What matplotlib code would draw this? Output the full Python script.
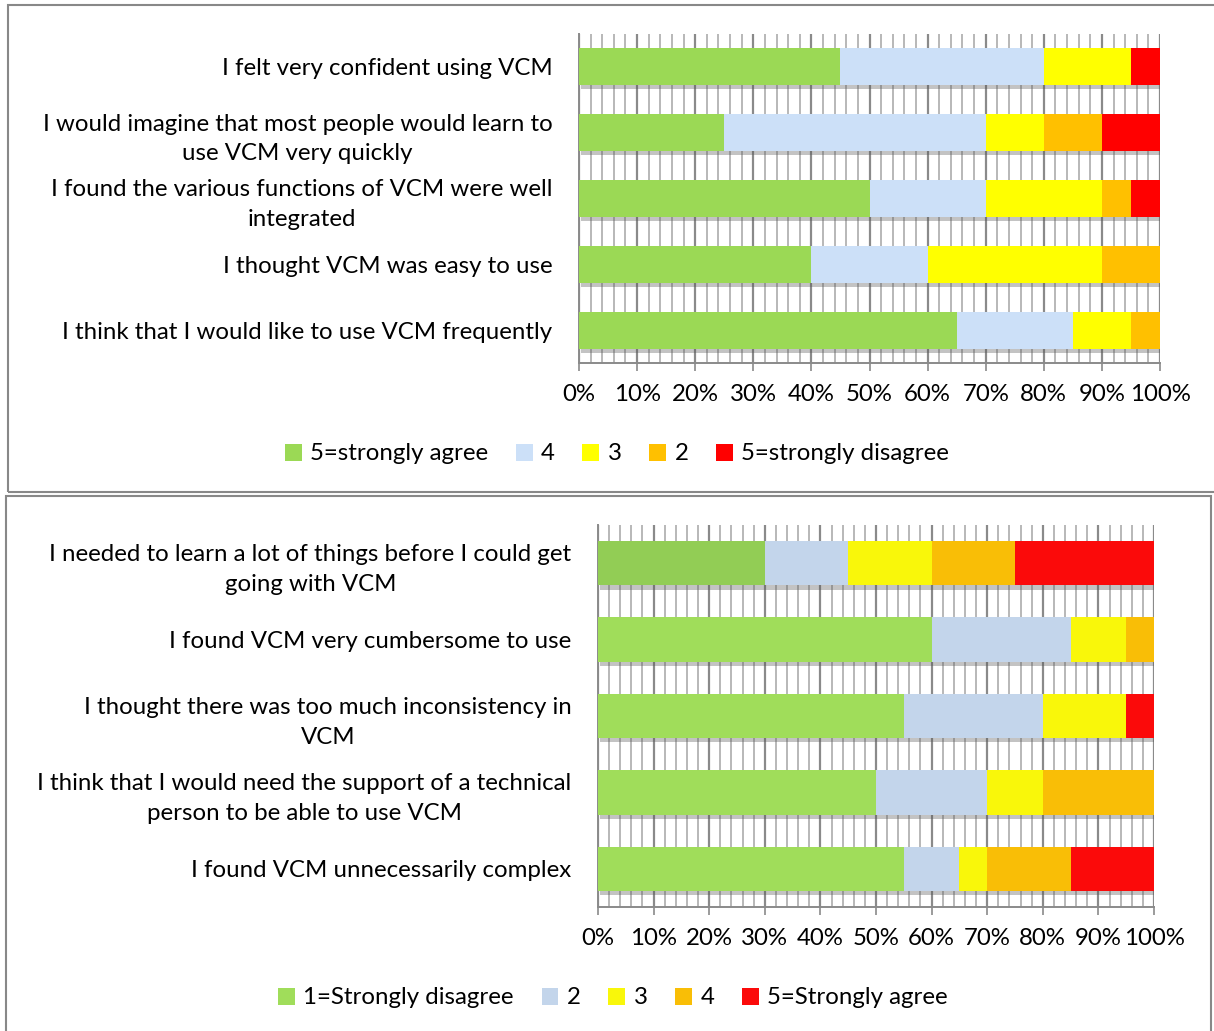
import matplotlib
matplotlib.use("Agg")
import matplotlib.pyplot as plt
import matplotlib.patheffects as pe
from matplotlib.patches import Rectangle, Patch
from matplotlib.ticker import MultipleLocator, PercentFormatter
import numpy as np

plt.rcParams['font.family'] = ['Lato', 'DejaVu Sans']

# top chart: positive SUS items
top_questions = [
    "I felt very confident using VCM",
    "I would imagine that most people would learn to\nuse VCM very quickly",
    "I found the various functions of VCM were well\nintegrated",
    "I thought VCM was easy to use",
    "I think that I would like to use VCM frequently",
]
top_labels = ["5=strongly agree", "4", "3", "2", "5=strongly disagree"]
top_s5 = [45, 25, 50, 40, 65]
top_s4 = [35, 45, 20, 20, 20]
top_s3 = [15, 10, 20, 30, 10]
top_s2 = [0, 10, 5, 10, 5]
top_s1 = [5, 10, 5, 0, 0]
top_colors = ['#9bd955', '#cce0f8', '#ffff00', '#ffc000', '#ff0000']

# bottom chart: negative SUS items
bot_questions = [
    "I needed to learn a lot of things before I could get\ngoing with VCM",
    "I found VCM very cumbersome to use",
    "I thought there was too much inconsistency in\nVCM",
    "I think that I would need the support of a technical\nperson to be able to use VCM",
    "I found VCM unnecessarily complex",
]
bot_labels = ["1=Strongly disagree", "2", "3", "4", "5=Strongly agree"]
bot_s1 = [30, 60, 55, 50, 55]
bot_s2 = [15, 25, 25, 20, 10]
bot_s3 = [15, 10, 15, 10, 5]
bot_s4 = [15, 5, 0, 20, 15]
bot_s5 = [25, 0, 5, 0, 15]
bot_colors = ['#a0dd5a', '#c3d5eb', '#f9f70a', '#f9be06', '#fb0a0a']

W, H = 1214, 1031
FS = 17.3
fig = plt.figure(figsize=(W / 100, H / 100), dpi=100)


def px_axes(x0, y0, x1, y1):
    return fig.add_axes([x0 / W, 1 - y1 / H, (x1 - x0) / W, (y1 - y0) / H])


def draw_chart(ax, questions, series, colors, height, first_color=None):
    y = np.arange(len(questions))
    left = np.zeros(len(questions))
    shadow = [pe.SimplePatchShadow(offset=(1.5, -3), shadow_rgbFace='#555555', alpha=0.35), pe.Normal()]
    for i, (vals, col) in enumerate(zip(series, colors)):
        vals = np.array(vals, dtype=float)
        cols = [col] * len(vals)
        if i == 0 and first_color:
            cols[0] = first_color
        bars = ax.barh(y, vals / 100, left=left / 100, height=height, color=cols, zorder=3)
        for b in bars:
            if b.get_width() > 0:
                b.set_path_effects(shadow)
        left += vals
    ax.set_xlim(0, 1)
    ax.set_ylim(len(questions) - 0.5, -0.5)
    ax.set_yticks(y)
    ax.set_yticklabels(questions, fontsize=FS, multialignment='center', linespacing=1.5)
    ax.xaxis.set_major_locator(MultipleLocator(0.1))
    ax.xaxis.set_minor_locator(MultipleLocator(0.02))
    ax.xaxis.set_major_formatter(PercentFormatter(1.0, decimals=0))
    ax.grid(axis='x', which='major', color='#8a8a8a', lw=1.6, zorder=0)
    ax.grid(axis='x', which='minor', color='#b8b8b8', lw=1.4, zorder=0)
    ax.tick_params(axis='y', length=0, pad=19)
    ax.tick_params(axis='x', which='major', length=6, width=1.2, color='#8a8a8a',
                   labelsize=FS, pad=9)
    ax.tick_params(axis='x', which='minor', length=0)
    for s in ['top', 'right']:
        ax.spines[s].set_visible(False)
    for s in ['left', 'bottom']:
        ax.spines[s].set_color('#8a8a8a')
        ax.spines[s].set_linewidth(1.4)


def add_legend(colors, labels, cx, cy):
    handles = [Patch(facecolor=c, edgecolor='none') for c in colors]
    fig.legend(handles, labels, loc='center', bbox_to_anchor=(cx / W, 1 - cy / H), ncol=5,
               frameon=False, fontsize=FS, handlelength=0.7, handleheight=0.7,
               handletextpad=0.35, columnspacing=1.15)


# frames around the two charts
fig.add_artist(Rectangle((8 / W, 1 - 492 / H), 1.0, (492 - 5) / H, transform=fig.transFigure,
                         fill=False, edgecolor='#888888', lw=1.5))
fig.add_artist(Rectangle((6 / W, -0.01), (1211 - 6) / W, 0.01 + (1031 - 496) / H,
                         transform=fig.transFigure, fill=False, edgecolor='#888888', lw=1.5))

ax1 = px_axes(579, 34, 1160, 363)
draw_chart(ax1, top_questions, [top_s5, top_s4, top_s3, top_s2, top_s1], top_colors, 0.56)
add_legend(top_colors, top_labels, 617, 454)

ax2 = px_axes(598, 525, 1154, 907)
draw_chart(ax2, bot_questions, [bot_s1, bot_s2, bot_s3, bot_s4, bot_s5], bot_colors, 0.58,
           first_color='#92cd55')
add_legend(bot_colors, bot_labels, 613, 998)

fig.savefig("out.png", dpi=100)
